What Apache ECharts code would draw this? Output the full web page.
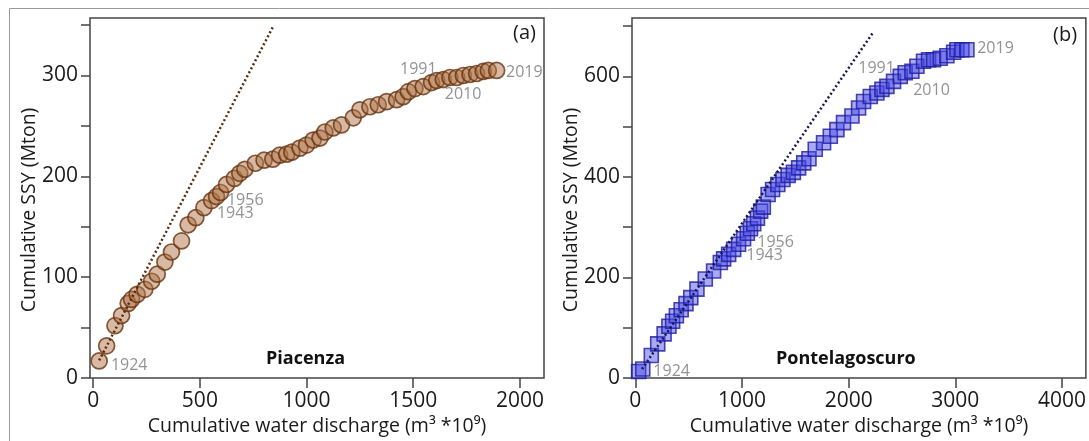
<!DOCTYPE html>
<html>
<head>
<meta charset="utf-8">
<script src="https://cdn.jsdelivr.net/npm/echarts@6/dist/echarts.min.js"></script>
<style>
  html, body { margin: 0; padding: 0; background: #fff; }
  #chart { width: 1089px; height: 441px; }
</style>
</head>
<body>
<div id="chart"></div>
<script>
// Piacenza (a): cumulative water discharge vs cumulative SSY
var piaQ = [28,63,102,133,164,180,206,242,274,300,336,367,414,445,481,519,555,578,597,625,662,687,711,760,801,842,874,907,931,969,1000,1031,1063,1086,1125,1164,1219,1250,1297,1336,1375,1422,1453,1477,1508,1547,1586,1610,1641,1672,1704,1735,1766,1797,1828,1852,1891];
var piaS = [17,32,52,62,74,78,83,88,96,103,115,125,136,152,159,169,176,180,184,192,198,203,207,213,216,217,221,222,224,228,231,236,238,244,248,251,258,266,269,271,274,276,279,284,287,289,293,295,296,298,298,300,301,302,304,305,305];
var piaTrendQ = [28, 842];
var piaTrendS = [17.5, 348];
var piaYears = ['1924','1943','1956','1991','2010','2019'];
var piaYearQ = [83, 580, 627, 1438, 1648, 1935];
var piaYearS = [13, 163, 176, 306, 281, 303];

// Pontelagoscuro (b)
var ponQ = [31,70,150,210,270,315,350,385,430,475,520,578,656,734,797,828,875,922,968,1015,1050,1080,1110,1145,1175,1200,1245,1287,1336,1384,1433,1482,1531,1579,1628,1687,1765,1828,1890,1952,2031,2093,2140,2203,2265,2312,2359,2421,2484,2530,2593,2640,2702,2749,2796,2858,2921,2984,3015,3062,3109];
var ponS = [13,18,45,68,88,103,113,124,136,148,160,177,197,213,230,237,246,256,266,277,288,297,307,318,332,340,365,375,385,395,403,409,418,428,436,455,468,481,494,508,521,537,550,560,567,574,580,590,600,607,610,620,630,633,633,636,641,648,653,653,653];
var ponTrendQ = [63, 2228];
var ponTrendS = [18, 687];
var ponYears = ['1924','1943','1956','1991','2010','2019'];
var ponYearQ = [169, 1040, 1143, 2090, 2605, 3205];
var ponYearS = [13, 243, 270, 615, 571, 655];

// tick labels
var piaXTicks = [0, 500, 1000, 1500, 2000];
var piaYTicks = [0, 100, 200, 300];
var piaYMinor = [0, 50, 100, 150, 200, 250, 300, 350];
var ponXTicks = [0, 1000, 2000, 3000, 4000];
var ponYTicks = [0, 200, 400, 600];
var ponYMinor = [0, 100, 200, 300, 400, 500, 600, 700];

var FONT = '"Open Sans", "Noto Sans", sans-serif';

function pairs(a, b) {
  var res = [];
  for (var i = 0; i < a.length; i++) {
    res.push([a[i], b[i]]);
  }
  return res;
}

function yearData(names, q, s) {
  var res = [];
  for (var i = 0; i < names.length; i++) {
    res.push({ name: names[i], value: [q[i], s[i]] });
  }
  return res;
}

function plain(v) { return String(v); }

function xAxisOf(idx, min, max, ticks) {
  return {
    type: 'value', gridIndex: idx, min: min, max: max,
    axisLine: { show: false, onZero: false },
    axisTick: { show: true, length: 10, customValues: ticks, lineStyle: { color: '#444', width: 1.5 } },
    axisLabel: { customValues: ticks, formatter: plain, margin: 12, color: '#1a1a1a', fontSize: 21, fontFamily: FONT },
    splitLine: { show: false },
    name: 'Cumulative water discharge (m³ *10⁹)',
    nameLocation: 'middle', nameGap: 35,
    nameTextStyle: { color: '#1a1a1a', fontSize: 19.5, fontFamily: FONT }
  };
}

function yAxisOf(idx, min, max, ticks, minor) {
  return {
    type: 'value', gridIndex: idx, min: min, max: max,
    axisLine: { show: false, onZero: false },
    axisTick: { show: true, length: 9, customValues: minor, lineStyle: { color: '#444', width: 1.5 } },
    axisLabel: { customValues: ticks, formatter: plain, margin: 12, color: '#1a1a1a', fontSize: 21, fontFamily: FONT },
    splitLine: { show: false }
  };
}

function yTitle(x) {
  return {
    type: 'text', x: x, y: 210, rotation: Math.PI / 2,
    style: { text: 'Cumulative SSY (Mton)', align: 'center', verticalAlign: 'middle', fontSize: 19.5, fontFamily: FONT, fill: '#1a1a1a' }
  };
}

var yearLabel = {
  show: true, position: 'right', distance: 0,
  formatter: '{b}', color: '#777', fontSize: 16, fontFamily: FONT
};

var chart = echarts.init(document.getElementById('chart'));
chart.setOption({
  animation: false,
  backgroundColor: '#fff',
  grid: [
    { left: 90, top: 18, width: 454, height: 362, show: true, borderColor: '#444', borderWidth: 1.5, backgroundColor: 'transparent' },
    { left: 632, top: 18, width: 454, height: 362, show: true, borderColor: '#444', borderWidth: 1.5, backgroundColor: 'transparent' }
  ],
  xAxis: [
    xAxisOf(0, -15, 2113, piaXTicks),
    xAxisOf(1, -31, 4224, ponXTicks)
  ],
  yAxis: [
    yAxisOf(0, 0, 357, piaYTicks, piaYMinor),
    yAxisOf(1, 0, 716, ponYTicks, ponYMinor)
  ],
  graphic: [
    { type: 'rect', z: 100, silent: true, shape: { x: 9.5, y: 8.5, width: 1090, height: 440 }, style: { fill: 'none', stroke: '#9a9a9a', lineWidth: 1 } },
    yTitle(29),
    yTitle(571),
    { type: 'text', left: 513, top: 23, style: { text: '(a)', fontSize: 20, fontFamily: FONT, fill: '#1a1a1a' } },
    { type: 'text', left: 1053, top: 25, style: { text: '(b)', fontSize: 20, fontFamily: FONT, fill: '#1a1a1a' } },
    { type: 'text', left: 266, top: 350, style: { text: 'Piacenza', fontSize: 18, fontWeight: 'bold', fontFamily: FONT, fill: '#111' } },
    { type: 'text', left: 776, top: 350, style: { text: 'Pontelagoscuro', fontSize: 18, fontWeight: 'bold', fontFamily: FONT, fill: '#111' } }
  ],
  series: [
    {
      type: 'scatter', xAxisIndex: 0, yAxisIndex: 0, symbol: 'circle', symbolSize: 16,
      data: pairs(piaQ, piaS),
      itemStyle: { color: 'rgba(176,116,70,0.62)', borderColor: '#66330f', borderWidth: 1.7 }
    },
    {
      type: 'line', xAxisIndex: 0, yAxisIndex: 0, symbol: 'none', z: 5,
      data: pairs(piaTrendQ, piaTrendS),
      lineStyle: { color: '#5a2a0c', width: 2.5, type: [2, 2.5] }
    },
    {
      type: 'scatter', xAxisIndex: 0, yAxisIndex: 0, symbolSize: 0, silent: true,
      data: yearData(piaYears, piaYearQ, piaYearS), label: yearLabel
    },
    {
      type: 'scatter', xAxisIndex: 1, yAxisIndex: 1, symbol: 'rect', symbolSize: 14,
      data: pairs(ponQ, ponS),
      itemStyle: { color: 'rgba(70,70,232,0.58)', borderColor: '#1d1d9e', borderWidth: 1.6 }
    },
    {
      type: 'line', xAxisIndex: 1, yAxisIndex: 1, symbol: 'none', z: 5,
      data: pairs(ponTrendQ, ponTrendS),
      lineStyle: { color: '#161650', width: 2.5, type: [2, 2.5] }
    },
    {
      type: 'scatter', xAxisIndex: 1, yAxisIndex: 1, symbolSize: 0, silent: true,
      data: yearData(ponYears, ponYearQ, ponYearS), label: yearLabel
    }
  ]
});
</script>
</body>
</html>
